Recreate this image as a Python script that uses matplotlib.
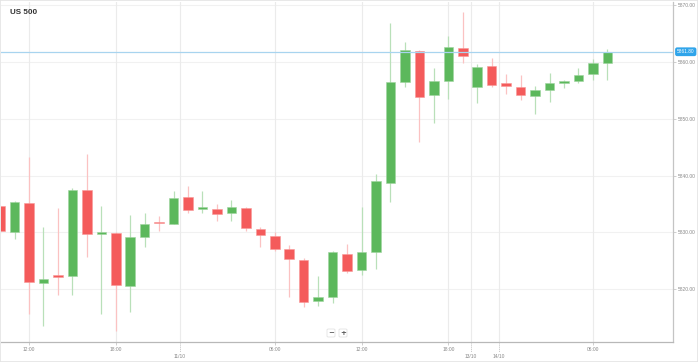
import matplotlib
matplotlib.use("Agg")
import matplotlib.pyplot as plt
import matplotlib.transforms as mtransforms
from matplotlib.patches import Rectangle, FancyBboxPatch

# hourly OHLC, US 500
opens  = [5834.6, 5830.1, 5835.2, 5821.1, 5822.5, 5822.3, 5837.5, 5829.7, 5829.9, 5820.6,
          5829.2, 5831.8, 5831.5, 5836.2, 5834.1, 5834.1, 5833.4, 5834.3, 5830.6, 5829.4,
          5827.1, 5825.1, 5817.9, 5818.6, 5826.2, 5823.4, 5826.6, 5838.7, 5856.5, 5861.9,
          5854.2, 5856.7, 5862.5, 5855.6, 5859.3, 5856.3, 5855.6, 5854.0, 5855.1, 5856.3,
          5856.7, 5857.9, 5859.8]
highs  = [5834.9, 5835.5, 5843.3, 5830.9, 5834.3, 5837.8, 5843.8, 5834.6, 5830.1, 5833.1,
          5833.4, 5832.9, 5837.3, 5838.2, 5837.3, 5835.0, 5835.7, 5834.5, 5830.9, 5830.1,
          5827.8, 5825.5, 5822.3, 5826.7, 5828.0, 5834.5, 5840.3, 5866.9, 5863.5, 5862.1,
          5858.9, 5864.6, 5868.8, 5859.6, 5860.7, 5857.9, 5857.7, 5855.8, 5858.1, 5856.8,
          5858.9, 5860.5, 5862.3]
lows   = [5829.9, 5828.8, 5815.6, 5813.5, 5819.0, 5819.0, 5825.7, 5815.6, 5812.6, 5816.0,
          5827.4, 5830.2, 5831.4, 5833.4, 5833.4, 5832.0, 5832.0, 5830.2, 5827.4, 5826.7,
          5818.6, 5816.9, 5817.0, 5817.6, 5822.9, 5822.5, 5823.6, 5835.4, 5855.6, 5845.9,
          5849.3, 5853.5, 5859.8, 5852.8, 5855.6, 5854.4, 5853.3, 5850.8, 5853.0, 5855.4,
          5856.3, 5856.8, 5856.8]
closes = [5830.2, 5835.4, 5821.3, 5821.8, 5822.1, 5837.5, 5829.7, 5830.0, 5820.7, 5829.2,
          5831.5, 5831.6, 5836.1, 5833.9, 5834.3, 5833.2, 5834.5, 5830.8, 5829.5, 5827.1,
          5825.3, 5817.7, 5818.6, 5826.6, 5823.2, 5826.6, 5839.0, 5856.5, 5862.1, 5853.8,
          5856.7, 5862.6, 5861.1, 5859.1, 5856.0, 5855.8, 5854.2, 5855.1, 5856.3, 5856.5,
          5857.7, 5859.8, 5861.8]

time_ticks = [2, 8, 19, 25, 31, 41]
time_labels = ["12:00", "18:00", "06:00", "12:00", "18:00", "06:00"]
date_ticks = [12.45, 32.55, 34.5]
date_labels = ["11/10", "13/10", "14/10"]
price_ticks = [5820, 5830, 5840, 5850, 5860, 5870]
last_price = 5861.80

up = "#5cb85c"
down = "#f45b5b"
up_wick = "#b9e0b9"
down_wick = "#fbc2c2"

fig = plt.figure(figsize=(6.98, 3.62), dpi=100)
fig.patches.append(Rectangle((0, 0), 1, 1, transform=fig.transFigure, fill=False,
                             edgecolor="#e4e4e4", linewidth=1.2))
ax = fig.add_axes([0.5 / 698, 20 / 362, 672.5 / 698, 340 / 362])
ax.set_xlim(0.03, 46.54)
ax.set_ylim(5810.7, 5870.56)

# grid
for p in price_ticks:
    ax.axhline(p, color="#f1f1f1", lw=0.8, zorder=0)
for t in time_ticks + date_ticks:
    ax.axvline(t, color="#ebebeb", lw=0.8, zorder=0)

# candles
for i in range(len(opens)):
    o, h, l, c = opens[i], highs[i], lows[i], closes[i]
    rising = c >= o
    ax.vlines(i, l, h, color=up_wick if rising else down_wick, lw=0.9, zorder=2)
    bottom = min(o, c)
    height = max(abs(c - o), 0.3)
    ax.bar(i, height, bottom=bottom, width=0.66, color=up if rising else down,
           edgecolor="#9fd49f" if rising else "#f89a9a", linewidth=0.4, zorder=3)

# last price line + label
ax.axhline(last_price, color="#a8d4ef", lw=0.9, zorder=4)
trans_y = mtransforms.blended_transform_factory(ax.transAxes, ax.transData)
ax.text(1.0 + 4 / 672.5, last_price, f"{last_price:.2f}", transform=trans_y, fontsize=3.4,
        color="white", va="center", ha="left", family="Liberation Sans",
        bbox=dict(boxstyle="round,pad=0.25,rounding_size=0.3", fc="#2ea4ea", ec="#2ea4ea"),
        clip_on=False, zorder=6)

# axes frame
for s in ["top", "left"]:
    ax.spines[s].set_visible(False)
ax.spines["right"].set_color("#c4c4c4")
ax.spines["bottom"].set_color("#b8b8b8")
ax.spines["right"].set_linewidth(0.9)
ax.spines["bottom"].set_linewidth(0.9)

ax.yaxis.tick_right()
ax.set_yticks(price_ticks)
ax.set_yticklabels([f"{p:.2f}" for p in price_ticks], fontsize=3.5, color="#888888",
                   family="Liberation Sans")
ax.tick_params(axis="y", length=2, width=0.5, color="#bbbbbb", pad=1.5)

ax.set_xticks(time_ticks)
ax.set_xticklabels(time_labels, fontsize=3.5, color="#888888", family="Liberation Sans")
ax.tick_params(axis="x", length=2, width=0.5, color="#bbbbbb", pad=1.5)

trans_x = mtransforms.blended_transform_factory(ax.transData, ax.transAxes)
for t, lab in zip(date_ticks, date_labels):
    ax.plot([t, t], [0, -10 / 340], transform=trans_x, color="#aaaaaa", lw=0.5,
            ls=(0, (1.5, 1.5)), clip_on=False)
    ax.text(t, -14 / 340, lab, transform=trans_x, fontsize=3.5, color="#888888",
            ha="center", va="center", family="Liberation Sans")

# title
fig.text(10 / 698, 1 - 12 / 362, "US 500", fontsize=5.8, fontweight="bold", color="#333333",
         family="Liberation Sans", va="center", ha="left")

# zoom buttons
for x, sym in [(331, "\u2212"), (343, "+")]:
    fig.patches.append(FancyBboxPatch((x / 698 - 4 / 698, 1 - 337 / 362), 8 / 698, 8 / 362,
                                      boxstyle="round,pad=0,rounding_size=0.002",
                                      transform=fig.transFigure, fc="white", ec="#dddddd",
                                      lw=0.5, zorder=5))
    fig.text(x / 698, 1 - 333 / 362, sym, fontsize=5, fontweight="bold", color="#555555",
             ha="center", va="center", zorder=6)

fig.savefig("out.png", dpi=100)
